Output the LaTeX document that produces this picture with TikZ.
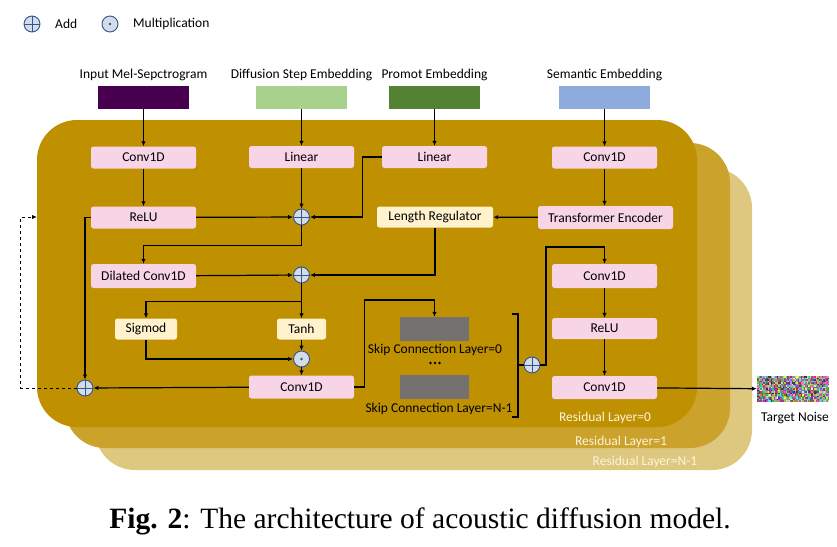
\documentclass[tikz,border=0pt]{standalone}
\usepackage{fontspec}
\setmainfont{Carlito}
\newfontfamily\capfont{Liberation Serif}
\usetikzlibrary{arrows.meta,calc}
\definecolor{pinkc}{RGB}{248,213,230}
\definecolor{creamc}{RGB}{255,242,204}
\definecolor{goldA}{RGB}{191,144,0}
\definecolor{goldB}{RGB}{202,162,44}
\definecolor{goldC}{RGB}{222,200,128}
\definecolor{circf}{RGB}{214,220,229}
\definecolor{circb}{RGB}{47,85,151}
\definecolor{melc}{RGB}{71,0,80}
\definecolor{diffc}{RGB}{169,209,142}
\definecolor{promc}{RGB}{84,130,53}
\definecolor{semc}{RGB}{143,170,220}
\definecolor{skipc}{RGB}{118,113,113}
\definecolor{reslbl}{RGB}{252,244,222}
\newcommand{\lbl}{\fontsize{13.5}{15}\selectfont}
\tikzset{
  pinkbox/.style={fill=pinkc, rounded corners=2.5pt, minimum width=105pt, minimum height=22pt, inner sep=0pt, font=\lbl},
  creambox/.style={fill=creamc, rounded corners=2.5pt, minimum height=21pt, inner sep=0pt, font=\lbl},
  embbox/.style={minimum width=91pt, minimum height=23pt, inner sep=0pt},
  skipbox/.style={fill=skipc, minimum width=69pt, minimum height=24pt, inner sep=0pt},
  txt/.style={font=\lbl, inner sep=0pt},
  addc/.style={circle, draw=circb, fill=circf, line width=0.9pt, minimum size=16pt, inner sep=0pt,
    path picture={\draw[circb, line width=0.9pt] (path picture bounding box.north) -- (path picture bounding box.south) (path picture bounding box.west) -- (path picture bounding box.east);}},
  mulc/.style={circle, draw=circb, fill=circf, line width=0.9pt, minimum size=16pt, inner sep=0pt,
    path picture={\fill[circb] (path picture bounding box.center) circle (1.4pt);}},
  conn/.style={line width=1.2pt, -{Latex[length=5pt,width=4.5pt]}},
  plain/.style={line width=1.2pt},
}
\begin{document}
\begin{tikzpicture}[x=1pt,y=-1pt]
\useasboundingbox (0,0) rectangle (837,546);
\fill[white] (0,0) rectangle (837,546);
% residual layers
\fill[goldC, rounded corners=40pt] (95,168) rectangle (752,470);
\fill[goldB, rounded corners=40pt] (65,143) rectangle (730,448);
\fill[goldA, rounded corners=40pt] (37,120) rectangle (697,427);
\node[font=\lbl, text=reslbl] (r0) at (605,418) {Residual Layer=0};
\node[font=\lbl, text=reslbl] (r1) at (621,442) {Residual Layer=1};
\node[font=\lbl, text=reslbl] (r2) at (645,462) {Residual Layer=N-1};
% legend
\node[addc] (legadd) at (32,24) {};
\node[txt, anchor=west] (legaddt) at (55,24) {Add};
\node[mulc] (legmul) at (110,24) {};
\node[txt, anchor=west] (legmult) at (133,24) {Multiplication};
% input embeddings
\node[txt] (melt) at (143.5,75) {Input Mel-Sepctrogram};
\node[embbox, fill=melc] (mel) at (143.5,97.5) {};
\node[txt] (difft) at (301.5,75) {Diffusion Step Embedding};
\node[embbox, fill=diffc] (diff) at (301.5,97.5) {};
\node[txt] (promt) at (434.5,75) {Promot Embedding};
\node[embbox, fill=promc] (prom) at (434.5,97.5) {};
\node[txt] (semt) at (604.5,75) {Semantic Embedding};
\node[embbox, fill=semc] (sem) at (604.5,97.5) {};
% blocks
\node[pinkbox] (conv1) at (143.5,157.5) {Conv1D};
\node[pinkbox] (lin1) at (301.5,157) {Linear};
\node[pinkbox] (lin2) at (434.5,157) {Linear};
\node[pinkbox] (convs) at (604.5,157.5) {Conv1D};
\node[pinkbox] (relu) at (143.5,217.5) {ReLU};
\node[addc] (add1) at (301.5,217) {};
\node[creambox, minimum width=116pt] (lenreg) at (435,217) {Length Regulator};
\node[pinkbox, minimum width=135pt, minimum height=23pt] (trans) at (605.5,217.5) {Transformer Encoder};
\node[pinkbox, minimum height=24pt] (dil) at (143.5,276) {Dilated Conv1D};
\node[addc] (add2) at (301.5,275) {};
\node[pinkbox, minimum height=24pt] (convr1) at (604.5,276) {Conv1D};
\node[creambox, minimum width=62pt] (sig) at (146,329) {Sigmod};
\node[creambox, minimum width=49pt] (tanh) at (301.5,329) {Tanh};
\node[mulc] (mul) at (301.5,359) {};
\node[pinkbox, minimum height=23pt] (conv3) at (301.5,387) {Conv1D};
\node[addc] (add3) at (85,388) {};
\node[pinkbox, minimum height=21pt] (relur) at (604.5,328.5) {ReLU};
\node[pinkbox, minimum height=23pt] (convr2) at (604.5,387.5) {Conv1D};
\node[skipbox] (skip1) at (434.5,329) {};
\node[txt] (skip1t) at (435,349.5) {Skip Connection Layer=0};
\node[inner sep=0pt, minimum width=12pt, minimum height=3pt] (dots) at (435,363) {};
\foreach \dx in {-4.5,0,4.5}{\fill ($(dots.center)+(\dx,0)$) circle (1.4pt);}
\node[skipbox] (skip2) at (434.5,387) {};
\node[txt] (skip2t) at (439,409) {Skip Connection Layer=N-1};
\node[addc] (add4) at (532,365) {};
% target noise
\node[inner sep=0pt, minimum width=72pt, minimum height=26pt] (noise) at (793,389) {};
\pgfmathsetseed{11}
\foreach \i in {0,...,47}{\foreach \j in {0,...,16}{%
  \pgfmathsetmacro\ra{0.1+0.9*rnd}\pgfmathsetmacro\ga{0.1+0.9*rnd}\pgfmathsetmacro\ba{0.1+0.9*rnd}%
  \definecolor{nz}{rgb}{\ra,\ga,\ba}%
  \fill[nz] (757+1.5*\i,376+1.5*\j) rectangle ++(1.55,1.55);
}}
\node[txt] (noiset) at (795,418) {Target Noise};
% connectors
\draw[conn] (mel) -- (conv1);
\draw[conn] (diff) -- (lin1);
\draw[conn] (prom) -- (lin2);
\draw[conn] (sem) -- (convs);
\draw[conn] (conv1) -- (relu);
\draw[conn] (convs.south) -- (convs.south |- trans.north);
\draw[conn] (trans) -- (lenreg);
\draw[conn] (lin1) -- (add1);
\draw[conn] (relu) -- (add1);
\draw[conn] (lin2.west) -- ++(-19,0) |- (add1.east);
\draw[conn] (add1.south) -- ++(0,20) -| (dil.north);
\draw[conn] (dil) -- (add2);
\draw[conn] (lenreg.south) |- (add2.east);
\draw[conn] (add2) -- (tanh);
\draw[conn] (add2.south) ++(0,18) -| (sig.north);
\draw[conn] (tanh) -- (mul);
\draw[conn] (sig.south) |- (mul.west);
\draw[conn] (mul) -- (conv3);
\draw[conn] (conv3) -- (add3);
\draw[conn] (relu.west) -| (add3.north);
\coordinate (entry) at (37,217);
\draw[conn, dashed, line width=1pt] (add3.west) -- ++(-56,0) |- (entry);
\coordinate (skr) at (434.5,300);
\draw[conn] (conv3.east) -- ++(10,0) |- (skr) -- (skip1.north);
\coordinate (brt) at (518,314);
\coordinate (brb) at (518,417);
\draw[plain] ($(brt)+(-6,0)$) -- (brt) -- (brb) -- ++(-6,0);
\draw[plain] (brt |- add4.west) -- (add4.west);
\coordinate (loopt) at (546,247);
\draw[conn] (add4.east) -| (loopt) -| (convr1.north);
\draw[conn] (convr1) -- (relur);
\draw[conn] (relur) -- (convr2);
\draw[conn] (convr2) -- (noise);
% caption
\node[inner sep=0pt, font=\capfont\fontsize{29.5}{34}\selectfont] (cap) at (420,521) {\textbf{Fig. 2}: The architecture of acoustic diffusion model.};
\end{tikzpicture}
\end{document}
